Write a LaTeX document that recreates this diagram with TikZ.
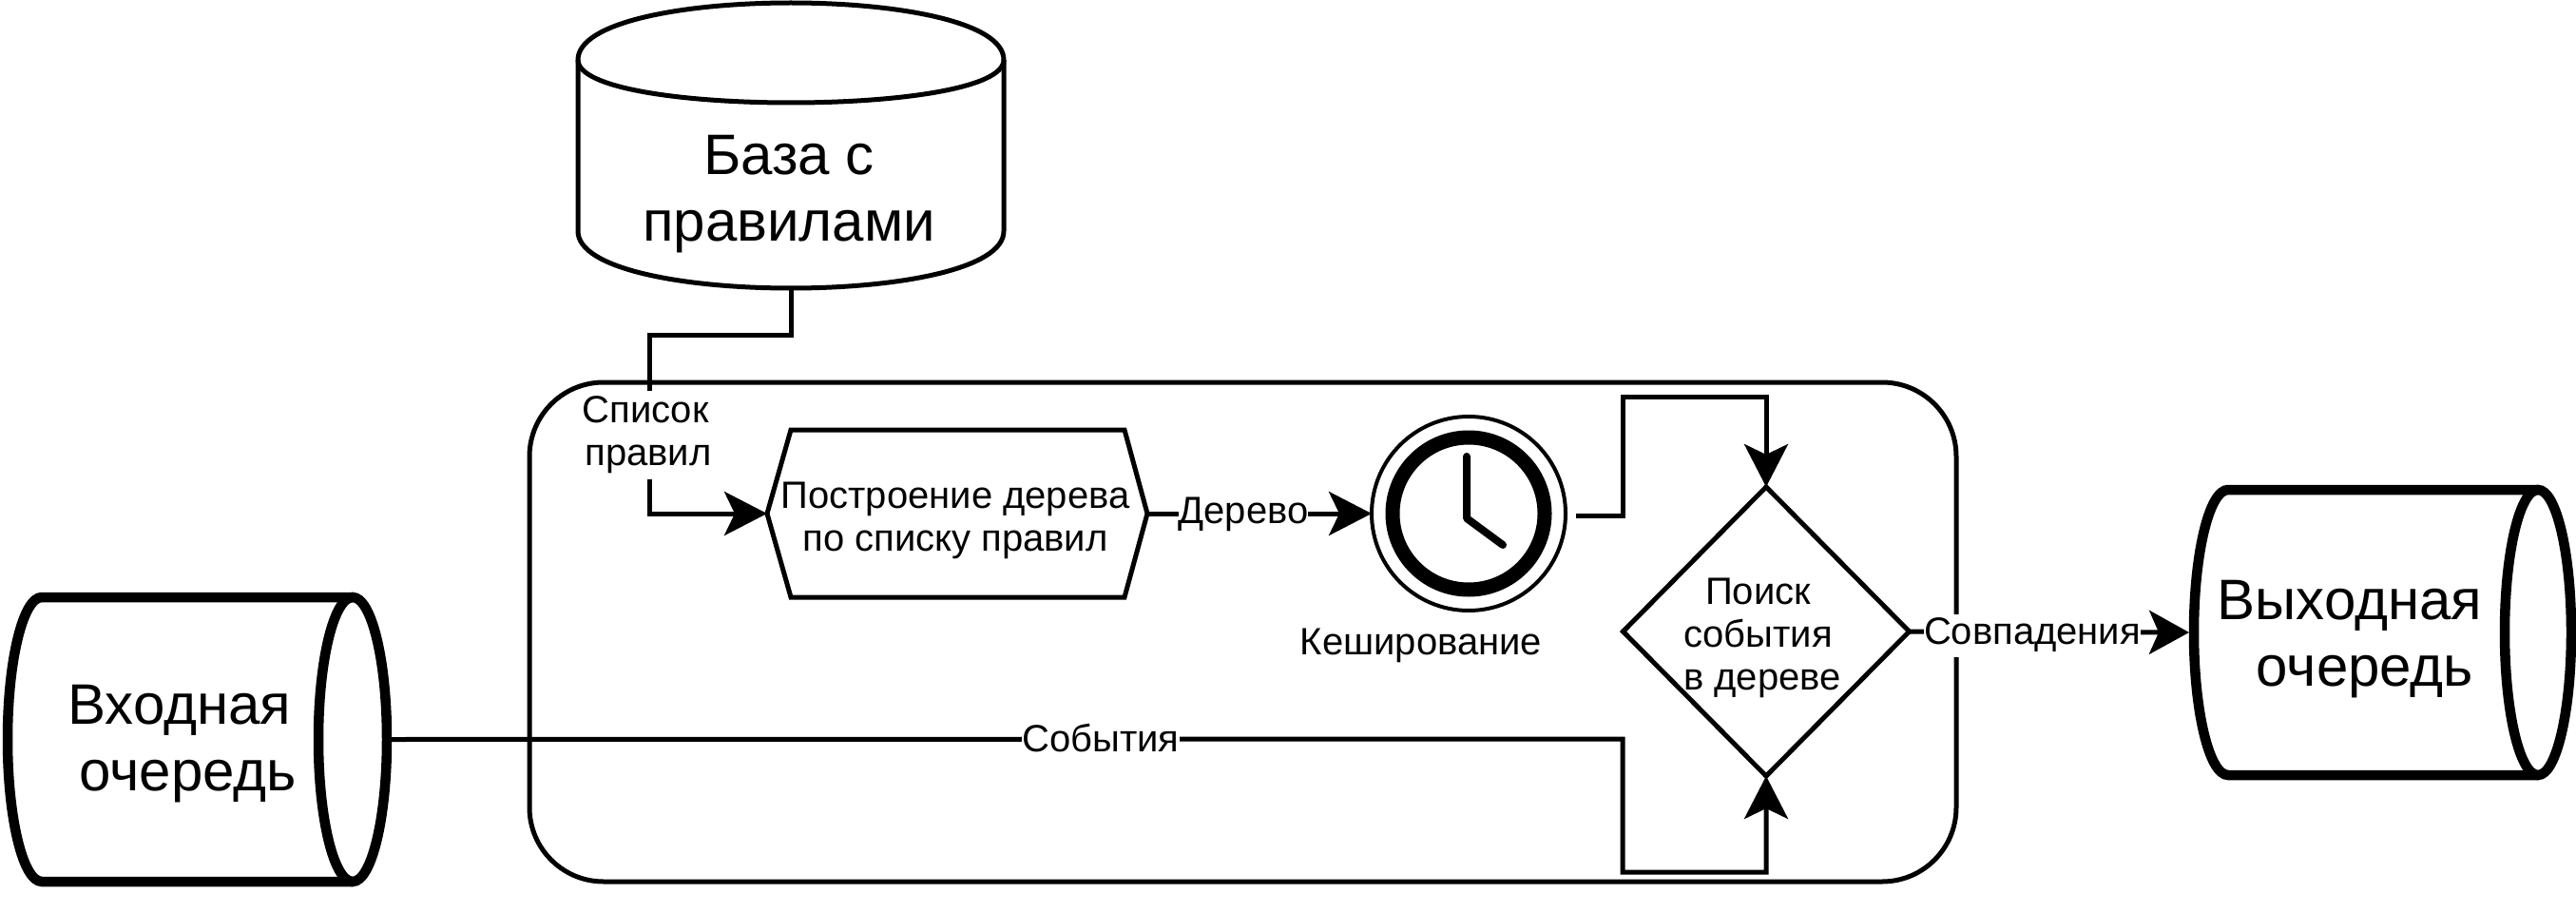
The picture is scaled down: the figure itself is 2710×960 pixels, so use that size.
\documentclass[tikz,border=0pt]{standalone}
\usepackage{fontspec}
\setmainfont{Liberation Sans}
\usetikzlibrary{arrows.meta,shapes.geometric}
\tikzset{
  thin line/.style={line width=5pt,line join=miter},
  thick line/.style={line width=10.5pt},
  anchorbox/.style={inner sep=0pt,outer sep=0pt},
  conn/.style={thin line,-{Stealth[length=45pt,width=46pt,inset=11pt]}},
  shortconn/.style={thin line,-{Stealth[length=42pt,width=46pt,inset=10pt]}},
  small/.style={align=center,inner sep=0pt,outer sep=0pt,font=\fontsize{40}{45}\selectfont},
  big/.style={align=center,inner sep=0pt,outer sep=0pt,font=\fontsize{60}{70}\selectfont},
  lab/.style={small,fill=white,minimum height=45pt}
}
\begin{document}
\begin{tikzpicture}[x=1pt,y=-1pt]
\useasboundingbox (0,0) rectangle (2710,960);
\fill[white] (0,0) rectangle (2710,960);
% container
\node (box) [draw,thin line,anchorbox,rounded corners=78pt,minimum width=1501pt,minimum height=525pt] at (1307.5,664.5) {};
% database
\node (db) [anchorbox,minimum width=448pt,minimum height=300pt] at (832,153) {};
\draw[thin line] (608,63) .. controls (608,-17) and (1056,-17) .. (1056,63) -- (1056,243)
  .. controls (1056,323) and (608,323) .. (608,243) -- cycle;
\draw[thin line] (608,63) .. controls (608,123) and (1056,123) .. (1056,63);
\node[big] (dbt) at (830,204) {База с\\правилами};
% input queue
\node (inq) [anchorbox,minimum width=409pt,minimum height=309pt] at (207.5,777.5) {};
\draw[thick line] (371,628) -- (44,628) arc[start angle=90,end angle=270,x radius=36pt,y radius=149.5pt] -- (371,927);
\draw[thick line] (371,777.5) ellipse[x radius=36pt,y radius=149.5pt];
\node[big] (inqt) at (197.5,782) {Входная\rule{17pt}{0pt}\\очередь};
% output queue
\node (outq) [anchorbox,minimum width=407pt,minimum height=309pt] at (2506.5,665) {};
\draw[thick line] (2670,515) -- (2344,515) arc[start angle=90,end angle=270,x radius=36pt,y radius=150pt] -- (2670,815);
\draw[thick line] (2670,665) ellipse[x radius=35pt,y radius=150pt];
\node[big] (outqt) at (2488,672) {Выходная\rule{32pt}{0pt}\\очередь};
% hexagon
\node (hex) [anchorbox,minimum width=400pt,minimum height=176pt] at (1007,540) {};
\draw[thin line] (hex.west) -- (832,452) -- (1183,452) -- (hex.east) -- (1183,628) -- (832,628) -- cycle;
\node[small] (hext) at (1005,547) {Построение дерева\\по списку правил};
% clock
\node (clock) [draw,line width=4pt,circle,anchorbox,minimum size=204pt] at (1545,540) {};
\draw[line width=15pt] (clock.center) circle[radius=80pt];
\draw[line width=8pt,line cap=round,line join=round] (1543,480) -- (1543,545) -- (1581,573);
\node[small] (clockt) at (1495,679) {Кеширование};
% decision
\node (search) [diamond,draw,thin line,anchorbox,minimum width=301pt,minimum height=304pt] at (1858,664) {};
\node[small] (searcht) at (1854,671) {Поиск\rule{9pt}{0pt}\\события\rule{9pt}{0pt}\\в дереве};
% connectors
\coordinate (clockout) at ([xshift=11pt,yshift=-2pt]clock.east);
\draw[conn] (db.south) -- (832,352) -- (683,352) -- (683,540) -- (hex.west);
\draw[conn] (hex.east) -- (clock.west);
\draw[conn] (clockout) -- (1707,542) -- (1707,417) -- (1858,417) -- (search.north);
\draw[conn] (inq.east) -- (1707,777) -- (1707,917) -- (1858,917) -- (search.south);
\draw[shortconn] (search.east) -- (outq.west);
% connector labels
\node[lab,minimum height=93pt] (l1) at (682,457) {Список\rule{6pt}{0pt}\\правил};
\node[lab] (l2) at (1308,541) {Дерево};
\node[lab] (l3) at (1158,776) {События};
\node[lab] (l4) at (2138,668) {Совпадения};
\end{tikzpicture}
\end{document}
